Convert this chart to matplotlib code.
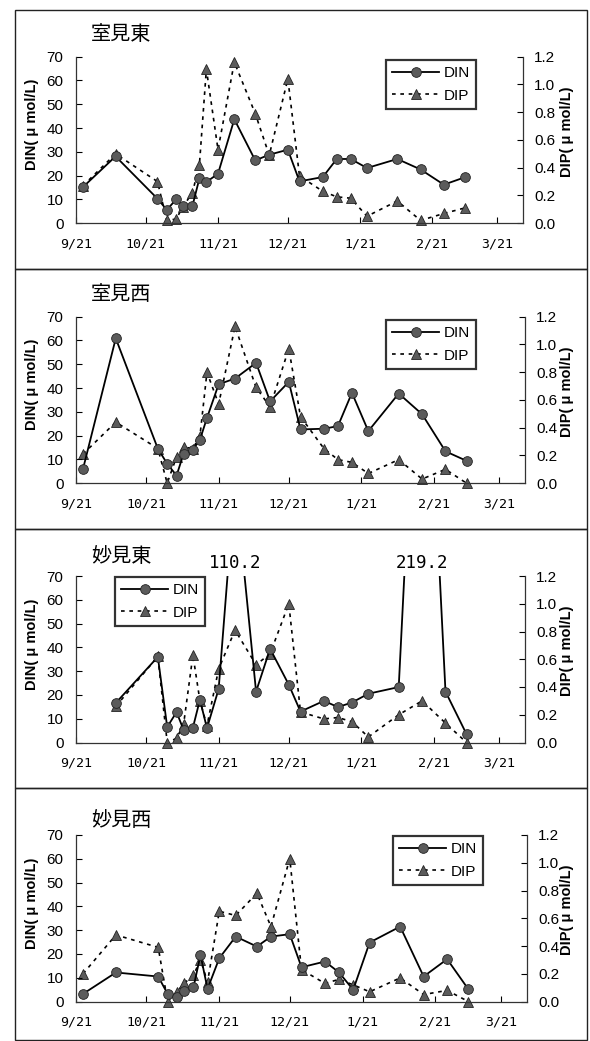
import matplotlib
matplotlib.use("Agg")
import matplotlib.pyplot as plt
from matplotlib.lines import Line2D
from matplotlib.patches import Rectangle
import numpy as np
import pandas as pd

# ---------------- data ----------------
sample_dates = ["2006-09-24", "2006-10-08", "2006-10-26", "2006-10-30", "2006-11-03",
                "2006-11-06", "2006-11-10", "2006-11-13", "2006-11-16", "2006-11-21",
                "2006-11-28", "2006-12-07", "2006-12-13", "2006-12-21", "2006-12-26",
                "2007-01-05", "2007-01-11", "2007-01-17", "2007-01-24", "2007-02-06",
                "2007-02-16", "2007-02-26", "2007-03-07"]

stations = ["室見東", "室見西", "妙見東", "妙見西"]

din_muromi_e = [15.2, 28.1, 10.3, 5.6, 10.0, 7.2, 7.2, 18.8, 17.3, 20.8, 43.7, 26.4,
                28.8, 30.9, 17.6, 19.4, 27.0, 27.0, 23.2, 27.0, 22.6, 16.2, 19.3]
dip_muromi_e = [0.27, 0.50, 0.30, 0.02, 0.03, 0.12, 0.22, 0.42, 1.11, 0.53, 1.16, 0.79,
                0.49, 1.04, 0.34, 0.23, 0.19, 0.18, 0.05, 0.16, 0.02, 0.07, 0.11]

din_muromi_w = [6.0, 60.9, 14.5, 8.2, 3.2, 12.4, 14.1, 18.3, 27.4, 41.6, 44.0, 50.6,
                34.4, 42.6, 22.6, 22.9, 24.0, 38.0, 21.9, 37.7, 29.0, 13.4, 9.4]
dip_muromi_w = [0.21, 0.44, 0.25, 0.0, 0.19, 0.26, 0.25, 0.34, 0.80, 0.57, 1.13, 0.69,
                0.55, 0.97, 0.48, 0.25, 0.17, 0.15, 0.07, 0.17, 0.03, 0.10, 0.0]

din_myoken_e = [np.nan, 16.6, 36.0, 6.5, 12.8, 5.3, 6.3, 18.0, 6.0, 22.5, 110.2, 21.4,
                39.4, 24.3, 13.0, 17.5, 14.9, 16.8, 20.5, 23.3, 219.2, 21.4, 3.5]
dip_myoken_e = [np.nan, 0.26, 0.62, 0.0, 0.03, 0.13, 0.63, 0.30, 0.12, 0.53, 0.81, 0.56,
                0.64, 1.00, 0.22, 0.17, 0.18, 0.15, 0.04, 0.20, 0.30, 0.14, 0.0]

din_myoken_w = [3.2, 12.2, 10.5, 3.2, 2.1, 4.6, 5.9, 19.6, 5.3, 18.2, 27.3, 23.1,
                27.3, 28.3, 14.4, 16.8, 12.2, 4.9, 24.8, 31.5, 10.5, 17.8, 5.2]
dip_myoken_w = [0.20, 0.48, 0.39, 0.0, 0.07, 0.13, 0.19, 0.30, 0.14, 0.65, 0.62, 0.78,
                0.54, 1.03, 0.23, 0.13, 0.16, 0.12, 0.07, 0.17, 0.05, 0.08, 0.0]

tick_dates = ["2006-09-21", "2006-10-21", "2006-11-21", "2006-12-21",
              "2007-01-21", "2007-02-21", "2007-03-21"]
tick_labels = ["9/21", "10/21", "11/21", "12/21", "1/21", "2/21", "3/21"]
din_ticks = [0, 10, 20, 30, 40, 50, 60, 70]
dip_ticks = [0.0, 0.2, 0.4, 0.6, 0.8, 1.0, 1.2]

din_series = [din_muromi_e, din_muromi_w, din_myoken_e, din_myoken_w]
dip_series = [dip_muromi_e, dip_muromi_w, dip_myoken_e, dip_myoken_w]

# ---------------- figure ----------------
W, H = 590, 1041
fig = plt.figure(figsize=(W / 100, H / 100), dpi=100)
fig.patch.set_facecolor("white")

NUM_FONT = ["Liberation Sans Narrow", "Liberation Sans", "DejaVu Sans"]
CJK_FONT = ["Noto Sans CJK JP", "DejaVu Sans"]
MONO_FONT = ["DejaVu Sans Mono"]

x = pd.to_datetime(sample_dates)
xt = pd.to_datetime(tick_dates)
xmin, xmax = pd.Timestamp("2006-09-21"), pd.Timestamp("2007-04-01")

ax_left = 76
ax_rights = [523, 525, 525, 527]
plot_tops = [56.7, 316.7, 576.0, 835.0]
plot_h = 166.5
box_tops = [9.5, 268.5, 528.5, 788.0]
box_bots = [268.5, 528.5, 788.0, 1040.0]
title_pos = [(91, 35), (91, 295), (91, 557), (91, 820)]
legend_pos = [(386, 60), (386, 320), (115, 577), (393, 836)]

marker_fc = "#5b5b5b"
edge_c = "#222222"
dip_dash = (0, (2.2, 2.8))


def fx(px):
    return px / W


def fy(py):
    return 1 - py / H


for i in range(4):
    # panel frame
    fig.add_artist(Rectangle((fx(15), fy(box_bots[i])), fx(587) - fx(15),
                             fy(box_tops[i]) - fy(box_bots[i]),
                             transform=fig.transFigure, fill=False,
                             edgecolor="#222222", linewidth=1.0))

    ax = fig.add_axes([fx(ax_left), fy(plot_tops[i] + plot_h),
                       fx(ax_rights[i] - ax_left), plot_h / H])
    ax2 = ax.twinx()
    ax.set_zorder(ax2.get_zorder() + 1)
    ax.patch.set_visible(False)

    din = np.array(din_series[i], dtype=float)
    dip = np.array(dip_series[i], dtype=float)

    # DIP (dotted, triangles) on right axis
    ax2.plot(x, dip, color="black", linestyle=dip_dash, linewidth=1.2, zorder=2)
    ok = ~np.isnan(dip) & (dip <= 1.2)
    ax2.plot(x[ok], dip[ok], linestyle="none", marker="^", markersize=7,
             markerfacecolor=marker_fc, markeredgecolor=edge_c,
             markeredgewidth=0.6, clip_on=False, zorder=3)

    # DIN (solid, circles) on left axis
    ax.plot(x, din, color="black", linestyle="-", linewidth=1.3, zorder=2)
    ok = ~np.isnan(din) & (din <= 70)
    ax.plot(x[ok], din[ok], linestyle="none", marker="o", markersize=7,
            markerfacecolor=marker_fc, markeredgecolor=edge_c,
            markeredgewidth=0.6, clip_on=False, zorder=3)

    # out-of-range values annotated above the plot
    for xv, v in zip(x, din):
        if not np.isnan(v) and v > 70:
            ax.annotate(f"{v:.1f}", xy=(xv, 1.0), xycoords=("data", "axes fraction"),
                        xytext=(0, 3), textcoords="offset points",
                        ha="center", va="bottom", fontsize=12.5,
                        family=MONO_FONT, color="black")

    ax.set_xlim(xmin, xmax)
    ax.set_ylim(0, 70)
    ax2.set_ylim(0, 1.2)
    ax.set_xticks(xt)
    ax.set_xticklabels(tick_labels, family=MONO_FONT, fontsize=9.5)
    ax.set_yticks(din_ticks)
    ax.set_yticklabels([str(t) for t in din_ticks], family=NUM_FONT, fontsize=11)
    ax2.set_yticks(dip_ticks)
    ax2.set_yticklabels([f"{t:.1f}" for t in dip_ticks], family=NUM_FONT, fontsize=11)

    ax.tick_params(axis="x", direction="in", length=4, width=0.8, pad=10)
    ax.tick_params(axis="y", direction="in", length=4, width=0.8, pad=9)
    ax2.tick_params(axis="y", direction="in", length=4, width=0.8, pad=8)

    for a in (ax, ax2):
        a.spines["top"].set_visible(False)
        for s in ("left", "right", "bottom"):
            a.spines[s].set_linewidth(0.9)
            a.spines[s].set_color("#333333")
    ax.spines["right"].set_visible(False)
    ax2.spines["left"].set_visible(False)
    ax2.spines["bottom"].set_visible(False)

    # axis titles
    fig.text(fx(31.7), fy(plot_tops[i] + 68), "DIN( μ mol/L)", family=NUM_FONT,
             fontsize=10.5, fontweight="bold", rotation=90, ha="center", va="center")
    fig.text(fx(567.5), fy(plot_tops[i] + 75), "DIP( μ mol/L)", family=NUM_FONT,
             fontsize=10.5, fontweight="bold", rotation=90, ha="center", va="center")

    # panel title
    fig.text(fx(title_pos[i][0]), fy(title_pos[i][1]), stations[i],
             family=CJK_FONT, fontsize=14.5, ha="left", va="center")

    # legend
    h_din = Line2D([], [], color="black", linestyle="-", linewidth=1.3, marker="o",
                   markersize=7, markerfacecolor=marker_fc, markeredgecolor=edge_c,
                   markeredgewidth=0.6)
    h_dip = Line2D([], [], color="black", linestyle=dip_dash, linewidth=1.2,
                   marker="^", markersize=7, markerfacecolor=marker_fc,
                   markeredgecolor=edge_c, markeredgewidth=0.6)
    leg = ax.legend([h_din, h_dip], ["DIN", "DIP"], loc="upper left",
                    bbox_to_anchor=(fx(legend_pos[i][0]), fy(legend_pos[i][1])),
                    bbox_transform=fig.transFigure, borderaxespad=0,
                    frameon=True, fancybox=False, shadow=False,
                    handlelength=3.1, handletextpad=0.25, labelspacing=0.55,
                    borderpad=0.4, prop={"family": NUM_FONT, "size": 11})
    leg.get_frame().set_edgecolor("black")
    leg.get_frame().set_linewidth(1.6)
    leg.set_zorder(10)

fig.savefig("out.png", dpi=100)
